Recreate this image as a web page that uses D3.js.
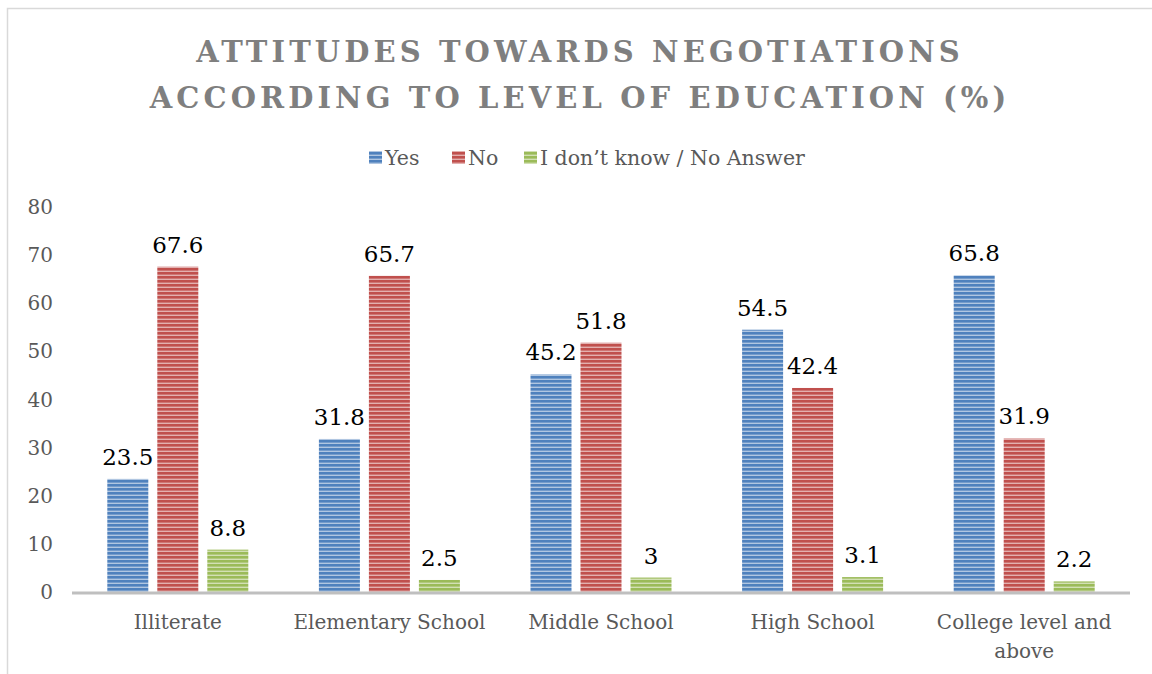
<!DOCTYPE html>
<html>
<head>
<meta charset="utf-8">
<script src="https://cdn.jsdelivr.net/npm/d3@7"></script>
<style>
  body { margin: 0; background: #fff; }
  svg text { font-family: "DejaVu Serif", "Liberation Serif", serif; }
</style>
</head>
<body>
<div id="main"></div>
<script>
// chart data
const categories = ['Illiterate', 'Elementary School', 'Middle School', 'High School', 'College level and above'];
const seriesNames = ['Yes', 'No', 'I don\u2019t know / No Answer'];
const yesValues = [23.5, 31.8, 45.2, 54.5, 65.8];
const noValues = [67.6, 65.7, 51.8, 42.4, 31.9];
const dkValues = [8.8, 2.5, 3, 3.1, 2.2];
const yTicks = [0, 10, 20, 30, 40, 50, 60, 70, 80];

const width = 1152;
const height = 674;
const colors = ['#4F81BD', '#C0504D', '#9BBB59'];
const margin = { left: 72, right: 22, top: 207, bottom: 82 };

const svg = d3.select('#main')
  .append('svg')
  .attr('width', width)
  .attr('height', height);

// striped fills
const defs = svg.append('defs');
colors.forEach((c, i) => {
  const p = defs.append('pattern')
    .attr('id', `stripe${i}`)
    .attr('patternUnits', 'userSpaceOnUse')
    .attr('width', 8)
    .attr('height', 4);
  p.append('rect').attr('width', 8).attr('height', 4).attr('fill', d3.interpolateRgb(c, '#fff')(0.55));
  p.append('rect').attr('width', 8).attr('height', 2.6).attr('fill', c);
});

// chart border
svg.append('rect')
  .attr('x', 7.5).attr('y', 8.5)
  .attr('width', width).attr('height', height)
  .attr('fill', 'none')
  .attr('stroke', '#D9D9D9')
  .attr('stroke-width', 1.5);

// title
svg.append('text')
  .attr('x', 580).attr('y', 62)
  .attr('text-anchor', 'middle')
  .attr('fill', '#7F7F7F')
  .style('font-size', '29px')
  .style('font-weight', 'bold')
  .style('letter-spacing', '4.1px')
  .selectAll('tspan')
  .data(['ATTITUDES TOWARDS NEGOTIATIONS', 'ACCORDING TO LEVEL OF EDUCATION (%)'])
  .join('tspan')
  .attr('x', 580)
  .attr('dy', (d, i) => i === 0 ? 0 : 46)
  .text(d => d);

// legend
const legendItems = [
  { name: seriesNames[0], x: 369 },
  { name: seriesNames[1], x: 452 },
  { name: seriesNames[2], x: 524 }
];
const legend = svg.append('g');
legendItems.forEach((d, i) => {
  legend.append('rect')
    .attr('x', d.x).attr('y', 151)
    .attr('width', 13).attr('height', 13)
    .attr('fill', `url(#stripe${i})`);
  legend.append('text')
    .attr('x', d.x + 16).attr('y', 165)
    .attr('fill', '#595959')
    .style('font-size', '20.5px')
    .text(d.name);
});

const x0 = d3.scaleBand()
  .domain(categories)
  .range([margin.left, width - margin.right]);
const x1 = d3.scaleBand()
  .domain(d3.range(3))
  .range([35.3, 176.3])
  .paddingInner(0.18);
const y = d3.scaleLinear()
  .domain([0, 80])
  .range([height - margin.bottom, margin.top]);

// y axis labels
svg.append('g')
  .selectAll('text')
  .data(yTicks)
  .join('text')
  .attr('x', 53)
  .attr('y', d => y(d) + 7)
  .attr('text-anchor', 'end')
  .attr('fill', '#595959')
  .style('font-size', '20px')
  .text(d => d);

// bars
const allValues = [yesValues, noValues, dkValues];
const groups = svg.append('g')
  .selectAll('g')
  .data(categories)
  .join('g')
  .attr('transform', d => `translate(${x0(d)},0)`);

groups.selectAll('rect')
  .data((d, ci) => allValues.map((vals, si) => ({ si, v: vals[ci] })))
  .join('rect')
  .attr('x', d => x1(d.si))
  .attr('y', d => y(d.v))
  .attr('width', x1.bandwidth())
  .attr('height', d => y(0) - y(d.v))
  .attr('fill', d => `url(#stripe${d.si})`);

groups.selectAll('text.val')
  .data((d, ci) => allValues.map((vals, si) => ({ si, v: vals[ci] })))
  .join('text')
  .attr('class', 'val')
  .attr('x', d => x1(d.si) + x1.bandwidth() / 2)
  .attr('y', d => y(d.v) - 14)
  .attr('text-anchor', 'middle')
  .attr('fill', '#000')
  .style('font-size', '23px')
  .text(d => d.v);

// x axis line
svg.append('line')
  .attr('x1', margin.left).attr('x2', width - margin.right)
  .attr('y1', y(0) + 1).attr('y2', y(0) + 1)
  .attr('stroke', '#BFBFBF')
  .attr('stroke-width', 3);

// category labels (wrapped)
const catLines = {
  'College level and above': ['College level and', 'above']
};
groups.append('text')
  .attr('text-anchor', 'middle')
  .attr('fill', '#595959')
  .style('font-size', '20px')
  .selectAll('tspan')
  .data(d => (catLines[d] || [d]))
  .join('tspan')
  .attr('x', x0.bandwidth() / 2)
  .attr('y', (d, i) => y(0) + 37 + i * 29)
  .text(d => d);
</script>
</body>
</html>
